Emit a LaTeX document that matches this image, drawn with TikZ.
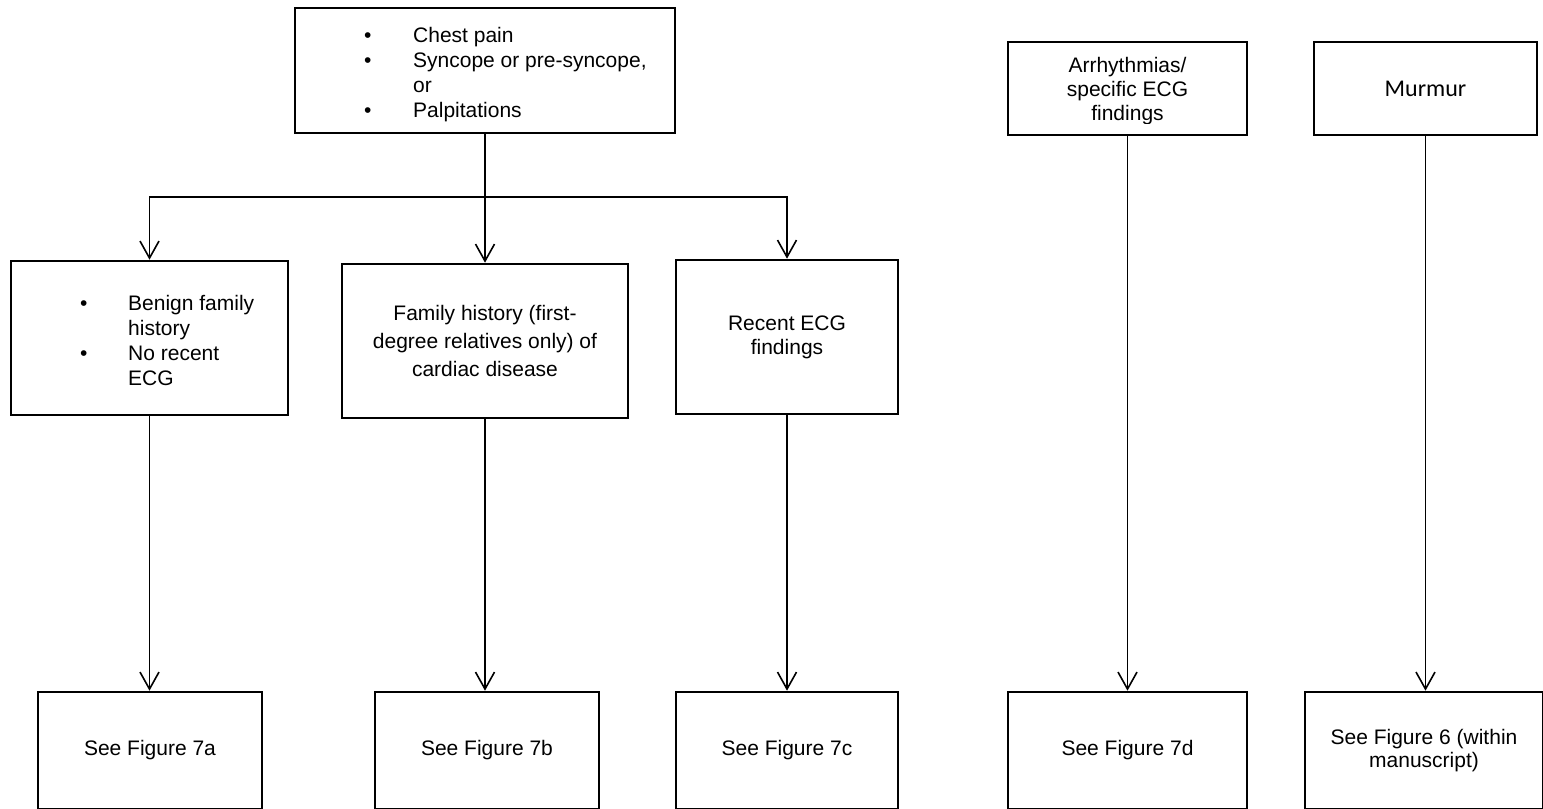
\documentclass[tikz,border=0pt]{standalone}
\usepackage{fontspec}
\setmainfont{Liberation Sans}
\newfontfamily\murmurfont{Carlito}
\usetikzlibrary{arrows.meta}
\begin{document}
\begin{tikzpicture}[x=1pt,y=-1pt,
  box/.style={draw, line width=2.6pt, inner sep=0pt, font=\fontsize{21}{24}\selectfont, align=center},
  txt/.style={inner sep=0pt, font=\fontsize{21}{25}\selectfont},
  conn/.style={line width=1.6pt},
  arr/.style={conn, -{Straight Barb[length=17pt,width=19pt,line width=1.6pt]}}
]
\useasboundingbox (0,0) rectangle (1543,809);
% upper boxes
\node[box, minimum width=380pt, minimum height=125pt] (top) at (485,70.5) {};
\node[box, minimum width=277pt, minimum height=154pt] (b1) at (149.5,338) {};
\node[box, minimum width=286pt, minimum height=154pt, font=\fontsize{21}{28}\selectfont] (b2) at (485,341) {Family history (first-\\degree relatives only) of\\cardiac disease};
\node[box, minimum width=222pt, minimum height=154pt] (b3) at (787,337) {Recent ECG\\findings};
\node[box, minimum width=239pt, minimum height=93pt] (b4) at (1127.5,88.5) {};
\node[box, minimum width=223pt, minimum height=93pt, font=\fontsize{24}{24}\murmurfont] (b5) at (1425.5,88.5) {Murmur};
% bottom boxes
\node[box, minimum width=224pt, minimum height=117pt] (f1) at (150,750.5) {See Figure 7a};
\node[box, minimum width=224pt, minimum height=117pt] (f2) at (487,750.5) {See Figure 7b};
\node[box, minimum width=222pt, minimum height=117pt] (f3) at (787,750.5) {See Figure 7c};
\node[box, minimum width=239pt, minimum height=117pt] (f4) at (1127.5,750.5) {See Figure 7d};
\node[box, minimum width=238pt, minimum height=117pt, font=\fontsize{21}{23}\selectfont] (f5) at (1424,750.5) {See Figure 6 (within\\manuscript)};
% texts with bullets
\node[txt, anchor=base west] (t0) at (364,42) {\begin{tabular}[t]{@{}p{49pt}@{}l@{}}
\textbullet & Chest pain\\
\textbullet & Syncope or pre-syncope,\\
 & or\\
\textbullet & Palpitations
\end{tabular}};
\node[txt, anchor=base west] (t1) at (80,310) {\begin{tabular}[t]{@{}p{48pt}@{}l@{}}
\textbullet & Benign family\\
 & history\\
\textbullet & No recent\\
 & ECG
\end{tabular}};
\begin{scope}
\clip (1000,0) rectangle (1260,123.5);
\node[txt, align=center, anchor=base, font=\fontsize{21}{24}\selectfont] (t4) at (1127.5,120) {Arrhythmias/\\specific ECG\\findings};
\end{scope}
% connectors
\coordinate (j) at (485,197);
\draw[conn] (top.south) -- (j);
\draw[arr] (j) -| (b1.north);
\draw[arr] (j) -- (b2.north);
\draw[arr] (j) -| (b3.north);
\draw[arr] (b1.south) -- (b1.south |- f1.north);
\draw[arr] (b2.south) -- (b2.south |- f2.north);
\draw[arr] (b3.south) -- (b3.south |- f3.north);
\draw[arr] (b4.south) -- (b4.south |- f4.north);
\draw[arr] (b5.south) -- (b5.south |- f5.north);
\end{tikzpicture}
\end{document}
